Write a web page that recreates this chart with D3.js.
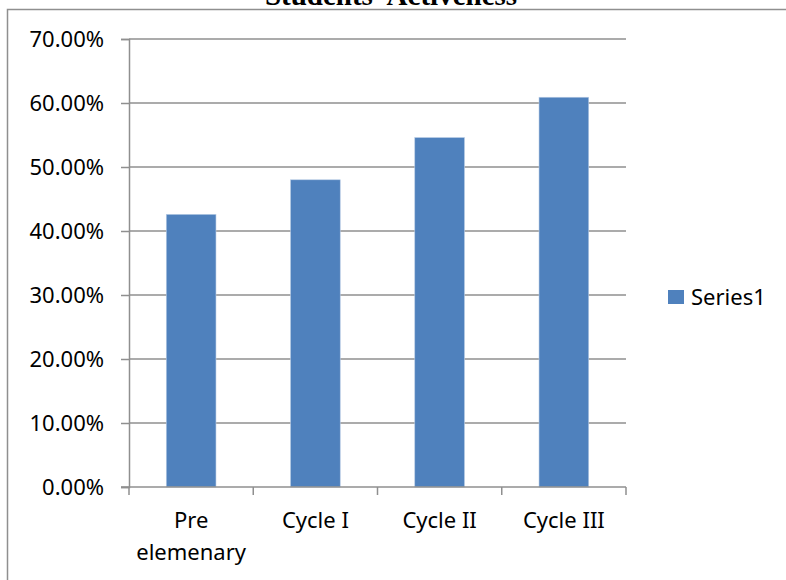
<!DOCTYPE html>
<html>
<head>
<meta charset="utf-8">
<script src="https://cdn.jsdelivr.net/npm/d3@7"></script>
<style>
  html, body { margin: 0; padding: 0; background: #fff; }
  svg { display: block; }
</style>
</head>
<body>
<svg id="chart" width="786" height="580"></svg>
<script>
// Chart data
const categories = [["Pre", "elemenary"], ["Cycle I"], ["Cycle II"], ["Cycle III"]];
const values = [0.426, 0.480, 0.546, 0.609];
const yTicks = [0, 0.1, 0.2, 0.3, 0.4, 0.5, 0.6, 0.7];
const seriesName = "Series1";
const titleText = "Students' Activeness";

const svg = d3.select("#chart");
const W = 786, H = 580;
const plot = { left: 129, right: 626, top: 39, bottom: 487 };
const barColor = "#4F81BD";
const gridColor = "#8f8f8f";
const font = "'Noto Sans', 'Open Sans', sans-serif";

// Outer chart frame (top and left edges)
svg.append("path")
  .attr("d", `M7.5,${H} V9.5 H${W}`)
  .attr("fill", "none")
  .attr("stroke", gridColor)
  .attr("stroke-width", 1.5);

// Title
svg.append("text")
  .attr("x", 391).attr("y", 5)
  .attr("text-anchor", "middle")
  .attr("font-family", "'Liberation Serif', 'Times New Roman', serif")
  .attr("font-weight", "bold")
  .attr("font-size", 29)
  .attr("fill", "#000")
  .text(titleText);

const x = d3.scaleBand()
  .domain(d3.range(categories.length))
  .range([plot.left, plot.right])
  .paddingInner(0.6)
  .paddingOuter(0.3);

const y = d3.scaleLinear()
  .domain([0, 0.7])
  .range([plot.bottom, plot.top]);

// Horizontal gridlines
svg.append("g")
  .selectAll("line")
  .data(yTicks.filter(d => d > 0))
  .join("line")
  .attr("x1", plot.left).attr("x2", plot.right)
  .attr("y1", d => y(d)).attr("y2", d => y(d))
  .attr("stroke", gridColor)
  .attr("stroke-width", 1.5);

// Bars
svg.append("g")
  .selectAll("rect")
  .data(values)
  .join("rect")
  .attr("x", (d, i) => x(i))
  .attr("y", d => y(d))
  .attr("width", x.bandwidth())
  .attr("height", d => y(0) - y(d))
  .attr("fill", barColor)
  .attr("stroke", "#b8cce4")
  .attr("stroke-width", 0.6);

// Y axis
const yAxis = d3.axisLeft(y)
  .tickValues(yTicks)
  .tickFormat(d => (d * 100).toFixed(2) + "%")
  .tickSize(8)
  .tickPadding(17);

const gy = svg.append("g")
  .attr("transform", `translate(${plot.left},0)`)
  .call(yAxis);
gy.select(".domain").attr("stroke", gridColor).attr("stroke-width", 1.5);
gy.selectAll(".tick line").attr("stroke", gridColor).attr("stroke-width", 1.5);
gy.selectAll(".tick text")
  .attr("font-family", font)
  .attr("font-size", 22)
  .attr("fill", "#000")
  .attr("dy", "0.36em");

// X axis with boundary ticks between categories
const boundaries = d3.range(categories.length + 1).map(i => plot.left + i * (plot.right - plot.left) / categories.length);
const gx = svg.append("g");
gx.append("line")
  .attr("x1", plot.left - 8).attr("x2", plot.right)
  .attr("y1", plot.bottom).attr("y2", plot.bottom)
  .attr("stroke", gridColor).attr("stroke-width", 1.5);
gx.selectAll("line.tick")
  .data(boundaries)
  .join("line")
  .attr("class", "tick")
  .attr("x1", d => d).attr("x2", d => d)
  .attr("y1", plot.bottom).attr("y2", plot.bottom + 8)
  .attr("stroke", gridColor).attr("stroke-width", 1.5);

const labels = gx.selectAll("text")
  .data(categories)
  .join("text")
  .attr("x", (d, i) => x(i) + x.bandwidth() / 2)
  .attr("y", 528)
  .attr("text-anchor", "middle")
  .attr("font-family", font)
  .attr("font-size", 22)
  .attr("fill", "#000");
labels.each(function(d, i) {
  const t = d3.select(this);
  d.forEach((line, j) => {
    t.append("tspan")
      .attr("x", x(i) + x.bandwidth() / 2)
      .attr("dy", j === 0 ? 0 : 32)
      .text(line);
  });
});

// Legend
const legend = svg.append("g").attr("transform", "translate(668,290)");
legend.append("rect")
  .attr("width", 16).attr("height", 14)
  .attr("fill", barColor);
legend.append("text")
  .attr("x", 23).attr("y", 15)
  .attr("font-family", font)
  .attr("font-size", 22)
  .attr("fill", "#000")
  .text(seriesName);
</script>
</body>
</html>
